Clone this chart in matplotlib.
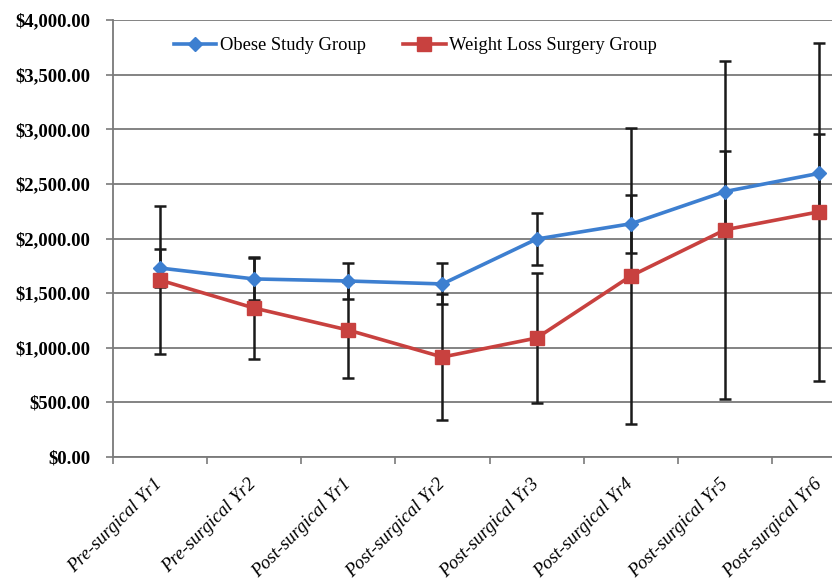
import matplotlib
matplotlib.use("Agg")
import matplotlib.pyplot as plt
from matplotlib.ticker import FuncFormatter, FixedLocator

categories = ["Pre-surgical Yr1", "Pre-surgical Yr2", "Post-surgical Yr1", "Post-surgical Yr2",
              "Post-surgical Yr3", "Post-surgical Yr4", "Post-surgical Yr5", "Post-surgical Yr6"]

obese_mean = [1730, 1630, 1611, 1584, 1995, 2135, 2430, 2597]
obese_err = [171, 190, 167, 188, 240, 267, 372, 360]

wls_mean = [1620, 1364, 1162, 915, 1089, 1657, 2080, 2245]
wls_err = [680, 467, 442, 576, 595, 1353, 1545, 1545]

y_ticks = [0, 500, 1000, 1500, 2000, 2500, 3000, 3500, 4000]

blue = "#3d7fd0"
red = "#c8413f"
grid_gray = "#7a7a7a"
serif = ["Liberation Serif", "DejaVu Serif"]

fig = plt.figure(figsize=(8.32, 5.8), dpi=100)
ax = fig.add_axes([112.5 / 832, 123 / 580, 754 / 832, 437 / 580])

x = list(range(len(categories)))

ax.errorbar(x, obese_mean, yerr=obese_err, fmt="none", ecolor="#1a1a1a",
            elinewidth=1.8, capsize=4.5, capthick=1.8, zorder=3)
ax.errorbar(x, wls_mean, yerr=wls_err, fmt="none", ecolor="#1a1a1a",
            elinewidth=1.8, capsize=4.5, capthick=1.8, zorder=3)

ax.plot(x, obese_mean, color=blue, lw=2.6, marker="D", markersize=7.5,
        markeredgecolor=blue, label="Obese Study Group", zorder=4)
ax.plot(x, wls_mean, color=red, lw=2.6, marker="s", markersize=10,
        markeredgecolor=red, label="Weight Loss Surgery Group", zorder=5)

ax.set_xlim(-0.5, len(categories) - 0.5)
ax.set_ylim(0, 4000)

ax.yaxis.set_major_locator(FixedLocator(y_ticks))
ax.yaxis.set_major_formatter(FuncFormatter(lambda v, p: f"${v:,.2f}"))
ax.grid(axis="y", color=grid_gray, lw=1.3, zorder=1)
ax.set_axisbelow(True)

ax.set_xticks(x)
ax.set_xticklabels(categories, rotation=45, ha="right", va="center",
                   rotation_mode="anchor", fontstyle="italic", family=serif, fontsize=13.5)
ax.set_xticks([i - 0.5 for i in range(len(categories) + 1)], minor=True)
ax.tick_params(axis="x", which="major", length=0, pad=18)
ax.tick_params(axis="x", which="minor", length=5, width=1.2, color=grid_gray)
ax.tick_params(axis="y", length=5, width=1.2, color=grid_gray, pad=11)
for lab in ax.get_yticklabels():
    lab.set_family(serif)
    lab.set_fontsize(13.5)
    lab.set_fontweight("bold")

for side in ("top", "right"):
    ax.spines[side].set_visible(False)
for side in ("left", "bottom"):
    ax.spines[side].set_color(grid_gray)
    ax.spines[side].set_linewidth(1.3)

ax.legend(loc="center left", bbox_to_anchor=(174 / 832, 1 - 46 / 580),
          bbox_transform=fig.transFigure, ncol=2, frameon=False,
          prop={"family": serif, "size": 13.3}, handlelength=2.3,
          handletextpad=0.2, columnspacing=2.0, borderaxespad=0, borderpad=0)

fig.savefig("out.png", dpi=100)
